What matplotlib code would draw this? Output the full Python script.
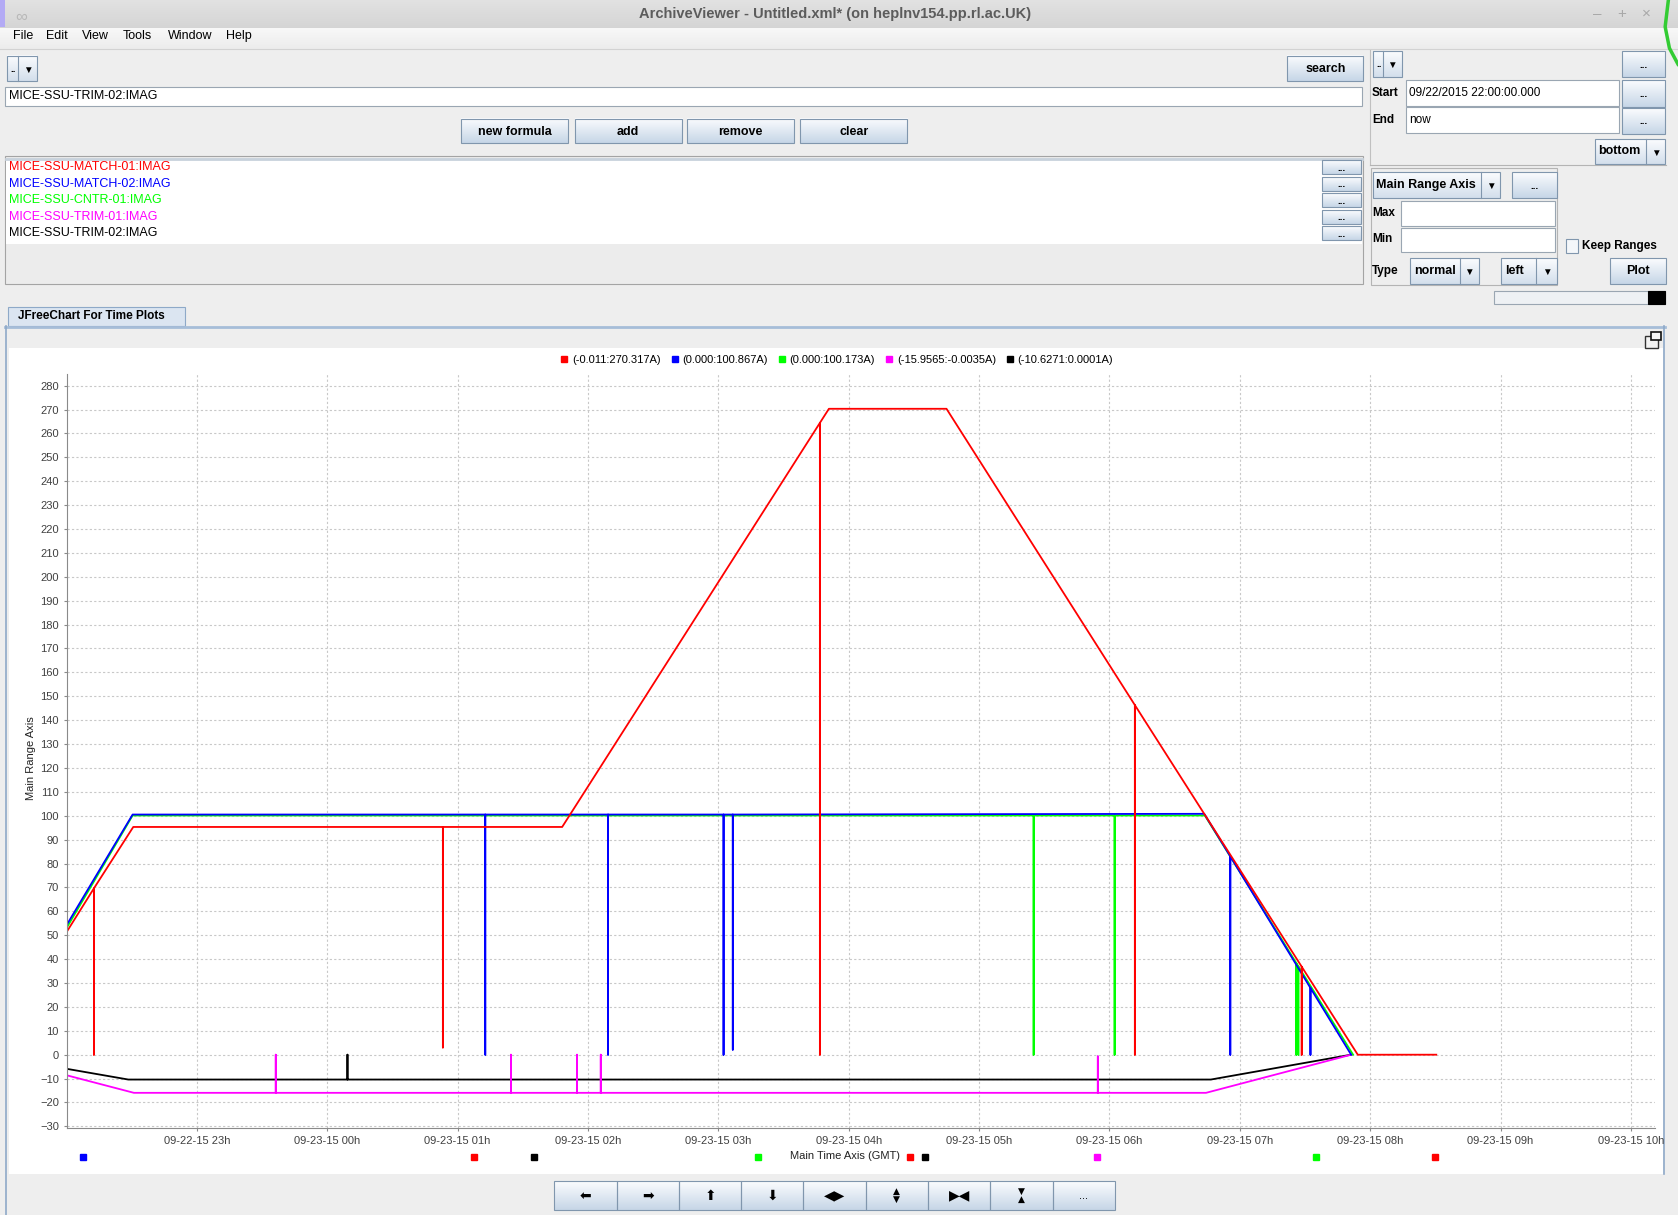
import numpy as np
import pandas as pd
import matplotlib
matplotlib.use('Agg')
import matplotlib.pyplot as plt
import matplotlib.dates as mdates
from matplotlib.patches import Rectangle
from matplotlib.lines import Line2D
from matplotlib.colors import LinearSegmentedColormap

plt.rcParams['font.family'] = ['Liberation Sans', 'DejaVu Sans']

# layout units = screen pixels of the archived window (1568 x 1135)
W, H = 1568, 1135

pv_names = ['MICE-SSU-MATCH-01:IMAG', 'MICE-SSU-MATCH-02:IMAG', 'MICE-SSU-CNTR-01:IMAG',
            'MICE-SSU-TRIM-01:IMAG', 'MICE-SSU-TRIM-02:IMAG']
pv_colors = ['#ff0000', '#0000ff', '#00ff00', '#ff00ff', '#000000']
legend_labels = ['(-0.011:270.317A)', '(0.000:100.867A)', '(0.000:100.173A)',
                 '(-15.9565:-0.0035A)', '(-10.6271:0.0001A)']

# archived samples, times are GMT from 09/22/2015 22:00 onwards
match01_t = ['22:00:00', '22:12:35', '22:12:35', '22:12:35', '22:30:42', '00:53:12', '00:53:12',
             '00:53:12', '01:48:06', '03:46:43', '03:46:43', '03:46:43', '03:50:52', '04:44:59',
             '06:11:41', '06:11:41', '06:11:41', '07:28:29', '07:28:29', '07:28:29', '07:54:17',
             '08:30:24']
match01_v = [51.3, 69.6, 0.0, 69.6, 95.3, 95.3, 3.0, 95.3, 95.3, 264.4, 0.0, 264.4, 270.3, 270.3,
             146.3, 0.0, 146.3, 36.8, 0.0, 36.8, -0.011, 0.0]

match02_t = ['22:00:00', '22:30:24', '01:12:42', '01:12:42', '01:12:42', '02:09:13', '02:09:13',
             '02:09:13', '03:02:23', '03:02:23', '03:02:23', '03:06:38', '03:06:38', '03:06:38',
             '06:43:36', '06:55:36', '06:55:36', '06:55:36', '07:32:30', '07:32:30', '07:32:30',
             '07:51:13']
match02_v = [54.2, 100.5, 100.5, 0.0, 100.5, 100.5, 0.0, 100.5, 100.5, 0.0, 100.5, 100.5, 2.1,
             100.5, 100.8, 83.0, 0.0, 83.0, 27.9, 0.0, 27.9, 0.0]

cntr01_t = ['22:00:00', '22:30:24', '05:25:06', '05:25:06', '05:25:06', '06:02:22', '06:02:22',
            '06:02:22', '06:43:54', '07:26:01', '07:26:01', '07:26:01', '07:26:55', '07:26:55',
            '07:26:55', '07:52:07']
cntr01_v = [53.0, 100.1, 100.1, 0.0, 100.1, 100.1, 0.0, 100.1, 100.1, 38.3, 0.0, 38.3, 37.0, 0.0,
            37.0, 0.0]

trim01_t = ['22:00:00', '22:31:00', '23:36:17', '23:36:17', '23:36:17', '01:24:31', '01:24:31',
            '01:24:31', '01:54:56', '01:54:56', '01:54:56', '02:05:52', '02:05:52', '02:05:52',
            '05:54:38', '05:54:38', '05:54:38', '06:44:26', '07:51:13']
trim01_v = [-8.6, -15.96, -15.96, 0.0, -15.96, -15.96, 0.0, -15.96, -15.96, 0.0, -15.96, -15.96,
            0.0, -15.96, -15.96, -0.7, -15.96, -15.96, -0.0035]

trim02_t = ['22:00:00', '22:28:25', '00:09:17', '00:09:17', '00:09:17', '06:46:40', '07:51:13']
trim02_v = [-5.9, -10.4, -10.4, 0.0, -10.4, -10.4, 0.0001]

# small coloured marks drawn under the time axis
mark_t = ['22:07:44', '01:07:40', '01:35:20', '03:18:20', '04:28:22', '04:35:01', '05:54:06',
          '07:35:12', '08:29:41']
mark_c = ['#0000ff', '#ff0000', '#000000', '#00ff00', '#ff0000', '#000000', '#ff00ff',
          '#00ff00', '#ff0000']

hour_ticks = ['23:00:00', '00:00:00', '01:00:00', '02:00:00', '03:00:00', '04:00:00',
              '05:00:00', '06:00:00', '07:00:00', '08:00:00', '09:00:00', '10:00:00']
y_ticks = list(range(-30, 290, 10))


def to_time(hms):
    # start is 09/22 22:00, anything earlier in the day belongs to 09/23
    day = '2015-09-22' if hms >= '22' else '2015-09-23'
    return pd.Timestamp(day + ' ' + hms)


fig = plt.figure(figsize=(16.78, 12.15), dpi=100, facecolor='#eeeeee')
bg = fig.add_axes([0, 0, 1, 1])
bg.set_autoscale_on(False)
bg.set_xlim(0, W)
bg.set_ylim(H, 0)
bg.axis('off')


def box(x0, y0, x1, y1, fc='white', ec='#9aa6b2', lw=0.8, z=2):
    bg.add_patch(Rectangle((x0, y0), x1 - x0, y1 - y0, facecolor=fc, edgecolor=ec,
                           linewidth=lw, zorder=z))


def shade(x0, y0, x1, y1, top, bottom, z=2):
    cm = LinearSegmentedColormap.from_list('g', [top, bottom])
    bg.imshow(np.linspace(0, 1, 64).reshape(-1, 1), cmap=cm, extent=(x0, x1, y1, y0),
              aspect='auto', zorder=z, interpolation='bilinear')


def label(x, y, s, size=9, color='black', weight='normal', ha='left'):
    bg.text(x, y, s, fontsize=size, color=color, fontweight=weight, ha=ha, va='center', zorder=6)


def button(x0, y0, x1, y1, s, size=9):
    shade(x0, y0, x1, y1, '#fbfcfe', '#c6d6e7')
    box(x0, y0, x1, y1, fc='none', ec='#8096ad', z=3)
    label((x0 + x1) / 2, (y0 + y1) / 2 + 0.5, s, size=size, weight='bold', ha='center')


def combo(x0, y0, x1, y1, s, arrow_x, size=9):
    shade(x0, y0, x1, y1, '#fbfcfe', '#d3dfec')
    box(x0, y0, x1, y1, fc='none', ec='#8096ad', z=3)
    bg.plot([arrow_x, arrow_x], [y0, y1], color='#8096ad', lw=0.8, zorder=3)
    label(x0 + 3, (y0 + y1) / 2, s, size=size, weight='bold')
    label((arrow_x + x1) / 2, (y0 + y1) / 2 + 1, '\u25bc', size=7, ha='center')


def field(x0, y0, x1, y1, s='', size=8.5):
    box(x0, y0, x1, y1, fc='white', ec='#9aa6b2')
    if s:
        label(x0 + 3, (y0 + y1) / 2, s, size=size)


# window title + menu
shade(0, 0, W, 27, '#e2e2e2', '#d4d4d4')
box(0, 0, 5, 25, fc='#b3aaf5', ec='none', z=3)
label(20, 16, '\u221e', size=12, color='#b8b8b8', ha='center')
label(780, 13, 'ArchiveViewer - Untitled.xml* (on heplnv154.pp.rl.ac.UK)', size=10.5,
      color='#5c5c5c', weight='bold', ha='center')
for s, x in [('\u2013', 1493), ('+', 1515), ('\u00d7', 1538)]:
    label(x, 13, s, size=11, color='#a8a8a8', ha='center')
bg.plot([1559, 1556, 1560, 1568], [0, 25, 45, 60], color='#33cc33', lw=2.5, zorder=4)
shade(0, 27, W, 46, '#f8f8f8', '#ececec')
bg.plot([0, W], [46, 46], color='#d2d2d2', lw=0.8, zorder=3)
for s, x in [('File', 12), ('Edit', 43), ('View', 77), ('Tools', 115), ('Window', 157), ('Help', 211)]:
    label(x, 34, s, size=9)

# pv selection area
combo(7, 52, 35, 76, '..', 17, size=7)
button(1203, 52, 1274, 76, 'search')
field(5, 81, 1273, 99, 'MICE-SSU-TRIM-02:IMAG', size=9)
for s, x0 in [('new formula', 431), ('add', 537), ('remove', 642), ('clear', 748)]:
    button(x0, 111, x0 + 100, 134, s)
box(5, 146, 1274, 265, fc='#ececec', ec='#a4a4a4')
box(6, 149, 1273, 228, fc='white', ec='none')
bg.plot([6, 1273], [148.5, 148.5], color='#c8d2dc', lw=2, zorder=3)
for i, (name, c) in enumerate(zip(pv_names, pv_colors)):
    y = 156 + i * 15.5
    label(8, y, name, size=9, color=c)
    button(1235, y - 6.5, 1272, y + 6.5, '...', size=7)

# right hand time / axis panel
bg.plot([1280, 1280], [47, 154], color='#c0c0c0', lw=0.8, zorder=3)
bg.plot([1280, 1557], [154.5, 154.5], color='#b4b4b4', lw=0.8, zorder=3)
combo(1283, 48, 1310, 72, '..', 1292, size=7)
button(1516, 48, 1556, 72, '...', size=7)
label(1282, 87, 'Start', size=8.5, weight='bold')
field(1314, 75, 1513, 99, '09/22/2015 22:00:00.000')
button(1516, 75, 1556, 100, '...', size=7)
label(1282, 112, 'End', size=8.5, weight='bold')
field(1314, 100, 1513, 124, 'now')
button(1516, 101, 1556, 125, '...', size=7)
combo(1490, 130, 1556, 153, 'bottom', 1538)

box(1281, 157, 1455, 266, fc='none', ec='#b4b4b4')
combo(1283, 161, 1402, 185, 'Main Range Axis', 1384)
button(1413, 161, 1455, 185, '...', size=7)
label(1282, 199, 'Max', size=8.5, weight='bold')
field(1309, 188, 1453, 211)
label(1282, 223, 'Min', size=8.5, weight='bold')
field(1309, 213, 1453, 235)
box(1463, 223, 1475, 236, fc='#f4f7fa', ec='#8096ad')
label(1478, 230, 'Keep Ranges', size=8.5, weight='bold')
label(1282, 253, 'Type', size=8.5, weight='bold')
combo(1318, 241, 1382, 265, 'normal', 1364)
combo(1403, 241, 1455, 265, 'left', 1435)
button(1504, 241, 1557, 265, 'Plot')
box(1396, 272, 1556, 284, fc='#eef1f4', ec='#9aa6b2')
box(1540, 272, 1556, 284, fc='black', ec='black', z=3)

# chart tab and panel
box(7.5, 287, 172.5, 305, fc='#dbe5f1', ec='#8ea9c8')
label(17, 295.5, 'JFreeChart For Time Plots', size=8.5, weight='bold')
bg.plot([5, 1556], [305.5, 305.5], color='#a6bdd8', lw=2, zorder=3)
bg.plot([6, 6], [305, H], color='#8ea9c8', lw=1.2, zorder=3)
bg.plot([1555, 1555], [305, 1097], color='#8ea9c8', lw=1.2, zorder=3)
box(8, 325, 1554, 1097, fc='white', ec='none', z=1)
box(1537, 314, 1549, 325, fc='#f4f4f4', ec='#333333', lw=1)
box(1543, 310, 1552, 318, fc='#f4f4f4', ec='#111111', lw=1.2)

# navigation buttons under the chart
nav = ['\u2b05', '\u27a1', '\u2b06', '\u2b07', '\u25c0\u25b6', '\u25b2\n\u25bc', '\u25b6\u25c0',
       '\u25bc\n\u25b2', '...']
for i, s in enumerate(nav):
    x0 = 518 + i * 58.2
    shade(x0, 1103, x0 + 58.2, 1130, '#fbfcfe', '#c6d6e7')
    box(x0, 1103, x0 + 58.2, 1130, fc='none', ec='#8096ad', z=3)
    fs = 6.5 if '\n' in s else (7 if s == '...' else 10)
    bg.text(x0 + 29.1, 1117, s, fontsize=fs, ha='center', va='center', zorder=6,
            linespacing=0.9, family=['DejaVu Sans'])

# the chart itself
ax = fig.add_axes([62.2 / W, 1 - 1054 / H, (1546.7 - 62.2) / W, (1054 - 349.5) / H])
ax.set_facecolor('white')
series = [(match01_t, match01_v), (match02_t, match02_v), (cntr01_t, cntr01_v),
          (trim01_t, trim01_v), (trim02_t, trim02_v)]
for (t, v), c in reversed(list(zip(series, pv_colors))):
    ax.plot([to_time(s) for s in t], v, color=c, lw=1.3)

for t, c in zip(mark_t, mark_c):
    ax.plot([to_time(t)], [-0.0383], marker='s', ms=4.5, color=c, ls='none',
            transform=ax.get_xaxis_transform(), clip_on=False)

ax.set_xlim(to_time('22:00:00'), to_time('10:11:10'))
ax.set_ylim(-30.8, 284.8)
ax.set_xticks([to_time(h) for h in hour_ticks])
ax.xaxis.set_major_formatter(mdates.DateFormatter('%m-%d-%y %Hh'))
ax.set_yticks(y_ticks)
ax.grid(True, color='#c8c8c8', linestyle=(0, (2, 2)), lw=0.8)
ax.set_axisbelow(True)
for side in ['top', 'right']:
    ax.spines[side].set_visible(False)
for side in ['left', 'bottom']:
    ax.spines[side].set_color('#8a8a8a')
ax.tick_params(labelsize=8, colors='#8a8a8a', labelcolor='#404040', length=2.5, width=0.8, pad=3)
ax.set_xlabel('Main Time Axis (GMT)', fontsize=8, color='#222222')
ax.xaxis.set_label_coords((790 - 62.2) / 1484.5, -0.0298)
ax.set_ylabel('Main Range Axis', fontsize=8, color='#222222')
ax.yaxis.set_label_coords(-0.0195, 0.491)

handles = [Line2D([], [], ls='none', marker='s', ms=4.5, color=c) for c in pv_colors]
fig.legend(handles, legend_labels, loc='center', bbox_to_anchor=(782 / W, 1 - 336 / H), ncol=5,
           frameon=False, fontsize=8, handlelength=0.7, handletextpad=0.35, columnspacing=0.9)

fig.savefig('out.png', dpi=100, facecolor=fig.get_facecolor())
